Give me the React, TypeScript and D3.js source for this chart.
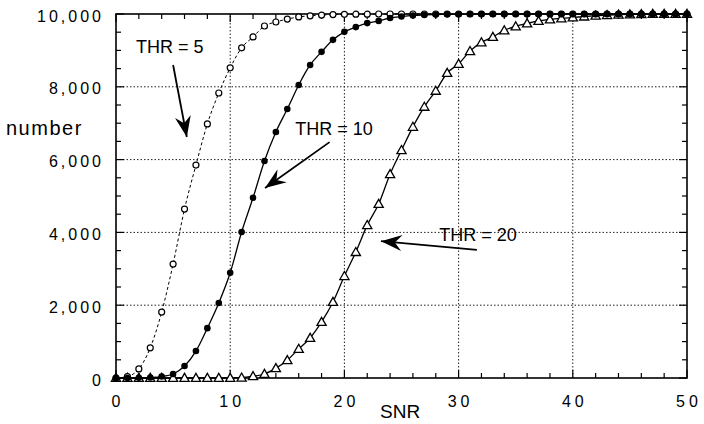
import React from 'react';
import * as d3 from 'd3';

const snr = d3.range(0, 51);

// THR = 5 (open circles, dashed)
const thr5 = [
  0, 40, 250, 830, 1810, 3130, 4640, 5850, 6980, 7830,
  8520, 9070, 9370, 9670, 9780, 9860, 9920, 9950, 9970, 9985,
  9990, 9995, 9995, 10000, 10000, 10000, 10000, 10000, 10000, 10000,
  10000, 10000, 10000, 10000, 10000, 10000, 10000, 10000, 10000, 10000,
  10000, 10000, 10000, 10000, 10000, 10000, 10000, 10000, 10000, 10000,
  10000,
];

// THR = 10 (filled circles)
const thr10 = [
  0, 0, 5, 15, 40, 110, 330, 740, 1370, 2060,
  2890, 4010, 4950, 5960, 6760, 7390, 8050, 8600, 8960, 9290,
  9510, 9640, 9750, 9810, 9890, 9930, 9960, 9975, 9985, 9990,
  9995, 10000, 10000, 10000, 10000, 10000, 10000, 10000, 10000, 10000,
  10000, 10000, 10000, 10000, 10000, 10000, 10000, 10000, 10000, 10000,
  10000,
];

// THR = 20 (open triangles)
const thr20 = [
  0, 0, 0, 0, 0, 0, 0, 0, 0, 0,
  0, 10, 50, 110, 270, 490, 800, 1100, 1540, 2090,
  2800, 3460, 4200, 4780, 5600, 6260, 6900, 7450, 7890, 8380,
  8630, 8980, 9220, 9370, 9550, 9660, 9740, 9810, 9850, 9880,
  9905, 9930, 9955, 9970, 9980, 9990, 9995, 10000, 10000, 10000,
  10000,
];

const xTicks = [0, 10, 20, 30, 40, 50];
const xMinor = d3.range(0, 51, 2);
const yTicks = [0, 2000, 4000, 6000, 8000, 10000];
const yMinor = d3.range(0, 10001, 500);

// annotations in data units: label position, arrow start, arrow tip
const notes = [
  { label: 'THR = 5', tx: 1.75, ty: 8930, x0: 5.0, y0: 8600, x1: 6.2, y1: 6620 },
  { label: 'THR = 10', tx: 15.7, ty: 6680, x0: 18.7, y0: 6480, x1: 13.05, y1: 5220 },
  { label: 'THR = 20', tx: 28.3, ty: 3760, x0: 31.6, y0: 3520, x1: 23.2, y1: 3760 },
];

const W = 704;
const H = 424;
const margin = { top: 14, right: 17, bottom: 46, left: 116 };

const font = 'Liberation Sans, Arial, Helvetica, sans-serif';

function arrowHead(x0: number, y0: number, x1: number, y1: number) {
  const dx = x1 - x0;
  const dy = y1 - y0;
  const len = Math.sqrt(dx * dx + dy * dy);
  const ux = dx / len;
  const uy = dy / len;
  const nx = -uy;
  const ny = ux;
  const L = 21;
  const Wd = 8;
  const notch = 7;
  const p = d3.path();
  p.moveTo(x1, y1);
  p.lineTo(x1 - L * ux + Wd * nx, y1 - L * uy + Wd * ny);
  p.lineTo(x1 - (L - notch) * ux, y1 - (L - notch) * uy);
  p.lineTo(x1 - L * ux - Wd * nx, y1 - L * uy - Wd * ny);
  p.closePath();
  return p.toString();
}

export default function App() {
  const x = d3.scaleLinear().domain([0, 50]).range([margin.left, W - margin.right]);
  const y = d3.scaleLinear().domain([0, 10000]).range([H - margin.bottom, margin.top]);

  const line = (vals: number[]) =>
    d3
      .line<number>()
      .x((_, i) => x(snr[i]))
      .y((d) => y(d))
      .curve(d3.curveMonotoneX)(vals) || '';

  const x0 = x(0);
  const x50 = x(50);
  const yb = y(0);
  const yt = y(10000);

  const tri = (cx: number, cy: number) => {
    const s = 4.6;
    return `M${cx},${cy - s}L${cx + s},${cy + s * 0.75}L${cx - s},${cy + s * 0.75}Z`;
  };

  return (
    <svg width={W} height={H} style={{ position: 'absolute', left: 0, top: 0, background: '#fff' }}>
      {/* grid */}
      <g stroke="#222" strokeWidth={1} strokeDasharray="1.5,2">
        {xTicks.slice(1, -1).map((t) => (
          <line key={'gx' + t} x1={x(t)} x2={x(t)} y1={yb} y2={yt} />
        ))}
        {yTicks.slice(1, -1).map((t) => (
          <line key={'gy' + t} x1={x0} x2={x50} y1={y(t)} y2={y(t)} />
        ))}
      </g>

      {/* ticks on all four sides, pointing inward */}
      <g stroke="#000" strokeWidth={1.2}>
        {xMinor.map((t) => {
          const major = t % 10 === 0;
          const l = major ? 8 : 5;
          return (
            <g key={'xt' + t}>
              <line x1={x(t)} x2={x(t)} y1={yb} y2={yb - l} />
              <line x1={x(t)} x2={x(t)} y1={yt} y2={yt + l} />
            </g>
          );
        })}
        {yMinor.map((t) => {
          const major = t % 2000 === 0;
          const l = major ? 8 : 5;
          return (
            <g key={'yt' + t}>
              <line x1={x0} x2={x0 + l} y1={y(t)} y2={y(t)} />
              <line x1={x50} x2={x50 - l} y1={y(t)} y2={y(t)} />
            </g>
          );
        })}
      </g>

      {/* frame */}
      <rect x={x0} y={yt} width={x50 - x0} height={yb - yt} fill="none" stroke="#000" strokeWidth={1.6} />

      {/* THR = 20 */}
      <path d={line(thr20)} fill="none" stroke="#000" strokeWidth={1.3} />
      {thr20.map((v, i) => (
        <path key={'t20' + i} d={tri(x(snr[i]), y(v))} fill="#fff" stroke="#000" strokeWidth={1.3} />
      ))}

      {/* THR = 5 */}
      <path d={line(thr5)} fill="none" stroke="#000" strokeWidth={1} strokeDasharray="3,2.5" />
      {thr5.map((v, i) => (
        <circle key={'t5' + i} cx={x(snr[i])} cy={y(v)} r={3} fill="#fff" stroke="#000" strokeWidth={1.2} />
      ))}

      {/* THR = 10 */}
      <path d={line(thr10)} fill="none" stroke="#000" strokeWidth={1.3} />
      {thr10.map((v, i) => (
        <circle key={'t10' + i} cx={x(snr[i])} cy={y(v)} r={3.3} fill="#000" />
      ))}

      {/* annotations */}
      {notes.map((n) => {
        const ax0 = x(n.x0);
        const ay0 = y(n.y0);
        const ax1 = x(n.x1);
        const ay1 = y(n.y1);
        return (
          <g key={n.label}>
            <text x={x(n.tx)} y={y(n.ty)} fontFamily={font} fontSize={18} fill="#000">
              {n.label}
            </text>
            <line x1={ax0} y1={ay0} x2={ax1} y2={ay1} stroke="#000" strokeWidth={1.8} />
            <path d={arrowHead(ax0, ay0, ax1, ay1)} fill="#000" />
          </g>
        );
      })}

      {/* y tick labels */}
      {yTicks.map((t) => (
        <text
          key={'yl' + t}
          x={104}
          y={y(t) + 7.5}
          textAnchor="end"
          fontFamily={font}
          fontSize={16}
          letterSpacing={3}
          fill="#000"
        >
          {d3.format(',')(t)}
        </text>
      ))}

      {/* x tick labels */}
      {xTicks.map((t) => (
        <text
          key={'xl' + t}
          x={x(t) + 2}
          y={407}
          textAnchor="middle"
          fontFamily={font}
          fontSize={16}
          letterSpacing={4}
          fill="#000"
        >
          {t}
        </text>
      ))}

      {/* axis titles */}
      <text x={6} y={135} fontFamily={font} fontSize={20} letterSpacing={1.5} fill="#000">
        number
      </text>
      <text x={380} y={418} fontFamily={font} fontSize={19} fill="#000">
        SNR
      </text>
    </svg>
  );
}
